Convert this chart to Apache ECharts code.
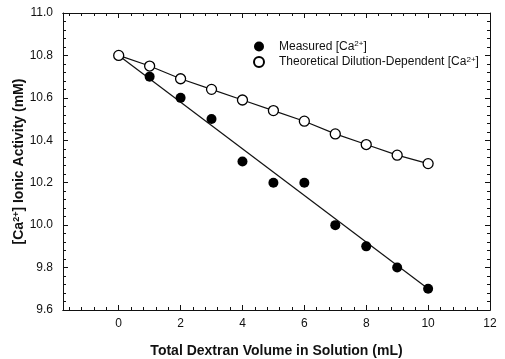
<!DOCTYPE html>
<html>
<head>
<meta charset="utf-8">
<script src="https://cdn.jsdelivr.net/npm/echarts@6/dist/echarts.min.js"></script>
<style>
  html, body { margin: 0; padding: 0; background: #fff; }
  #chart { width: 505px; height: 359px; }
</style>
</head>
<body>
<div id="chart"></div>
<script>
// volumes (mL)
const volumes = [0, 1, 2, 3, 4, 5, 6, 7, 8, 9, 10]
const measuredX = [1, 2, 3, 4, 5, 6, 7, 8, 9, 10]
const measuredY = [10.7, 10.6, 10.5, 10.3, 10.2, 10.2, 10.0, 9.9, 9.8, 9.7]
const theoreticalY = [10.80, 10.75, 10.69, 10.64, 10.59, 10.54, 10.49, 10.43, 10.38, 10.33, 10.29]
// regression line of the measured values
const fitX = [0, 10]
const fitY = [10.8, 9.7]
const xMajorTicks = [0, 2, 4, 6, 8, 10, 12]
const xMinorTicks = [-1.6, -1.2, -0.8, -0.4, 0.4, 0.8, 1.2, 1.6, 2.4, 2.8, 3.2, 3.6, 4.4, 4.8, 5.2, 5.6,
  6.4, 6.8, 7.2, 7.6, 8.4, 8.8, 9.2, 9.6, 10.4, 10.8, 11.2, 11.6]

const FONT = 'Liberation Sans, Arial, sans-serif'
const INK = '#111'

const chart = echarts.init(document.getElementById('chart'))

function xAxisOf (position, values, len, labels) {
  return {
    type: 'value',
    position: position,
    min: -1.8,
    max: 12,
    axisLine: { show: true, onZero: false, lineStyle: { color: INK, width: 1 } },
    axisTick: { show: true, inside: true, length: len, customValues: values, lineStyle: { color: INK } },
    axisLabel: labels
      ? { show: true, customValues: values, color: INK, fontFamily: FONT, fontSize: 12, margin: 8 }
      : { show: false },
    splitLine: { show: false }
  }
}

function yAxisOf (position, labels) {
  return {
    type: 'value',
    position: position,
    min: 9.6,
    max: 11.0,
    interval: 0.2,
    axisLine: { show: true, onZero: false, lineStyle: { color: INK, width: 1 } },
    axisTick: { show: true, inside: true, length: 5, lineStyle: { color: INK } },
    minorTick: { show: true, splitNumber: 5, length: 3, lineStyle: { color: INK } },
    axisLabel: labels
      ? { show: true, color: INK, fontFamily: FONT, fontSize: 12, margin: 10,
          formatter: (v) => v.toFixed(1) }
      : { show: false },
    splitLine: { show: false }
  }
}

const xBottom = xAxisOf('bottom', xMajorTicks, 5, true)
xBottom.name = 'Total Dextran Volume in Solution (mL)'
xBottom.nameLocation = 'middle'
xBottom.nameGap = 34
xBottom.nameTextStyle = { color: INK, fontFamily: FONT, fontSize: 14, fontWeight: 'bold' }

const yLeft = yAxisOf('left', true)
yLeft.name = '{b|[Ca}{s|2+}{b|] Ionic Activity (mM)}'
yLeft.nameLocation = 'middle'
yLeft.nameGap = 36
yLeft.nameMoveOverlap = false
yLeft.nameTextStyle = {
  color: INK,
  fontFamily: FONT,
  rich: {
    b: { fontSize: 14, fontWeight: 'bold', fontFamily: FONT, color: INK },
    s: { fontSize: 9, fontWeight: 'bold', fontFamily: FONT, color: INK, verticalAlign: 'top', padding: [0, 0, 6, 0] }
  }
}

const legendNames = {
  'Measured': 'Measured [Ca{s|2+}]',
  'Theoretical': 'Theoretical Dilution-Dependent [Ca{s|2+}]'
}

const option = {
  animation: false,
  backgroundColor: '#fff',
  grid: { left: 63, right: 15, top: 13, bottom: 49, containLabel: false, outerBoundsMode: 'none' },
  legend: {
    data: ['Measured', 'Theoretical'],
    orient: 'vertical',
    left: 248,
    top: 35,
    itemWidth: 30,
    itemHeight: 10,
    itemGap: 3,
    formatter: (name) => legendNames[name],
    textStyle: {
      color: INK,
      fontFamily: FONT,
      fontSize: 12,
      rich: { s: { fontSize: 8, fontFamily: FONT, color: INK, verticalAlign: 'top', padding: [0, 0, 5, 0] } }
    }
  },
  xAxis: [
    xBottom,
    xAxisOf('bottom', xMinorTicks, 3, false),
    xAxisOf('top', xMajorTicks, 5, false),
    xAxisOf('top', xMinorTicks, 3, false)
  ],
  yAxis: [yLeft, yAxisOf('right', false)],
  series: [
    {
      name: 'MeasuredFit',
      type: 'line',
      data: fitX.map((x, i) => [x, fitY[i]]),
      showSymbol: false,
      lineStyle: { color: INK, width: 1.2 },
      z: 1
    },
    {
      name: 'TheoreticalFit',
      type: 'line',
      data: volumes.map((x, i) => [x, theoreticalY[i]]),
      showSymbol: false,
      lineStyle: { color: INK, width: 1.2 },
      z: 1
    },
    {
      name: 'Measured',
      type: 'scatter',
      data: measuredX.map((x, i) => [x, measuredY[i]]),
      symbol: 'circle',
      symbolSize: 10,
      itemStyle: { color: '#000', opacity: 1 },
      z: 3
    },
    {
      name: 'Theoretical',
      type: 'scatter',
      data: volumes.map((x, i) => [x, theoreticalY[i]]),
      symbol: 'circle',
      symbolSize: 10,
      itemStyle: { color: '#fff', borderColor: '#000', borderWidth: 1.3, opacity: 1 },
      z: 4
    }
  ]
}

chart.setOption(option)
</script>
</body>
</html>
